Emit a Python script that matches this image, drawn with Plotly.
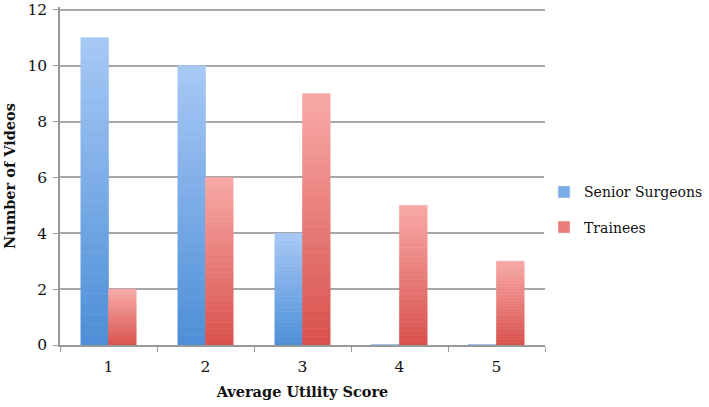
import plotly.graph_objects as go

scores = ['1', '2', '3', '4', '5']
senior = [11, 10, 4, 0, 0]
trainees = [2, 6, 9, 5, 3]

series = [
    ('Senior Surgeons', senior, (168, 201, 245), (76, 142, 215)),
    ('Trainees', trainees, (248, 170, 167), (216, 80, 75)),
]
n_steps = 30  # slices per bar to fake the vertical gradient

fig = go.Figure()
for name, vals, top, bottom in series:
    for k in range(n_steps):
        t = (k + 0.5) / n_steps
        rgb = tuple(round(b + (a - b) * t) for a, b in zip(top, bottom))
        color = 'rgb(%d,%d,%d)' % rgb
        fig.add_trace(go.Bar(
            x=scores,
            y=[v / n_steps for v in vals],
            base=[v * k / n_steps for v in vals],
            offsetgroup=name,
            name=name,
            legendgroup=name,
            showlegend=False,
            marker=dict(color=color, line=dict(width=0.6, color=color)),
            hoverinfo='skip',
        ))
    mid = tuple(round((a + b) / 2) for a, b in zip(top, bottom))
    fig.add_trace(go.Bar(
        x=[None], y=[None], name=name, legendgroup=name,
        offsetgroup=name,
        marker=dict(color='rgb(%d,%d,%d)' % mid),
    ))

font = 'DejaVu Serif, Liberation Serif, serif'
fig.update_layout(
    width=709, height=407,
    margin=dict(l=60, r=164, t=7, b=62, autoexpand=False),
    barmode='group',
    bargap=0.43,
    bargroupgap=0,
    plot_bgcolor='white',
    paper_bgcolor='white',
    font=dict(family=font, size=15.5, color='#111111'),
    legend=dict(x=0.998, y=0.40, yanchor='middle', xanchor='left',
                font=dict(size=14), itemwidth=30, tracegroupgap=14),
    showlegend=True,
)
fig.update_xaxes(
    type='category', tickson='boundaries', ticks='outside', ticklen=5,
    tickcolor='#999999', showline=True, linecolor='#999999', linewidth=1.5,
    showgrid=False, ticklabelstandoff=7,
    title=dict(text='<b>Average Utility Score</b>', font=dict(size=14.5), standoff=12),
)
fig.update_yaxes(
    range=[0, 12.1], tickvals=[0, 2, 4, 6, 8, 10, 12], ticks='outside',
    ticklen=5, tickcolor='#999999', ticklabelstandoff=3,
    ticklabeloverflow='allow',
    showline=True, linecolor='#999999', linewidth=1.5,
    gridcolor='#a6a6a6', gridwidth=1.5, zeroline=False,
    title=dict(text='<b>Number of Videos</b>', font=dict(size=14.5), standoff=8),
)
fig.write_html('out.html', config={'displayModeBar': False},
               post_script="document.body.style.margin='0';")
